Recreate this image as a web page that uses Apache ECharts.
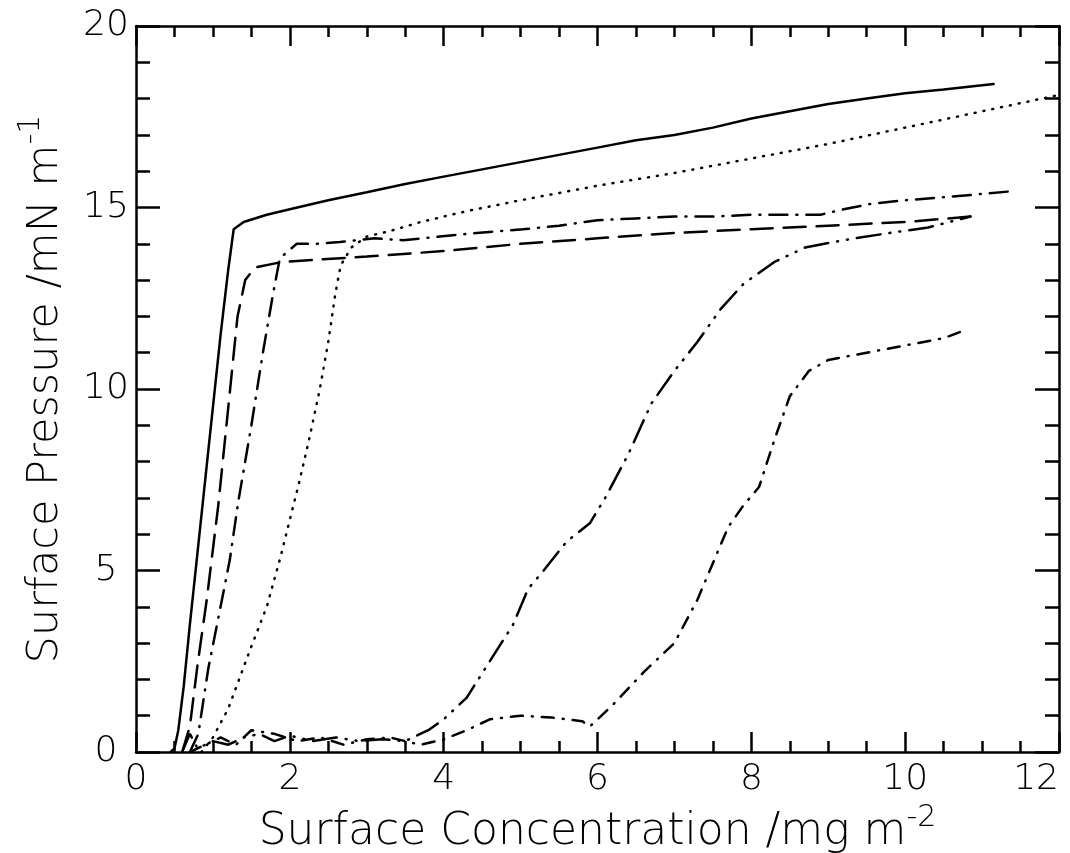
<!DOCTYPE html>
<html>
<head>
<meta charset="utf-8">
<title>Surface pressure isotherms</title>
<script src="https://cdn.jsdelivr.net/npm/echarts@6/dist/echarts.min.js"></script>
<style>
html,body{margin:0;padding:0;background:#fff;}
#main{width:1070px;height:853px;}
</style>
</head>
<body>
<div id="main"></div>
<script>
'use strict'
// x = surface concentration /mg m-2, y = surface pressure /mN m-1
var xTicks=[0,2,4,6,8,10,12];
var yTicks=[0,5,10,15,20];

// solid
var solidX=[0.45,0.5,0.55,0.62,0.7,0.8,0.9,1.0,1.1,1.2,1.27,1.4,1.7,2.0,2.5,3.0,3.5,4.0,4.5,5.0,5.5,6.0,6.5,7.0,7.5,8.0,8.5,9.0,9.5,10.0,10.5,11.15];
var solidY=[0,0.1,0.6,1.8,3.5,5.5,7.5,9.5,11.5,13.3,14.4,14.6,14.8,14.95,15.2,15.42,15.65,15.85,16.05,16.25,16.45,16.65,16.85,17.0,17.2,17.45,17.65,17.85,18.0,18.15,18.25,18.4];

// dotted
var dotX=[0.85,1.0,1.2,1.48,1.7,1.87,2.0,2.13,2.26,2.39,2.5,2.59,2.66,2.8,3.0,3.3,3.7,4.3,5.0,6.0,7.0,8.0,9.0,10.0,11.0,12.0];
var dotY=[0,0.4,1.2,2.8,4.0,5.3,6.4,7.5,8.7,10.0,11.3,12.6,13.4,13.9,14.2,14.35,14.6,14.9,15.2,15.6,15.95,16.35,16.75,17.2,17.65,18.1];

// long dash
var longX=[0.6,0.7,0.8,0.92,1.07,1.2,1.32,1.42,1.55,1.9,3.0,4.0,5.0,6.0,7.0,8.0,9.0,10.0,10.85];
var longY=[0,0.7,2.4,4.2,6.8,9.5,12.0,13.0,13.35,13.5,13.65,13.8,14.0,14.15,14.3,14.4,14.5,14.6,14.75];

// dash dot
var ddX=[0.7,0.81,0.94,1.09,1.22,1.33,1.5,1.65,1.78,1.87,2.09,2.35,2.65,3.1,3.47,3.95,4.43,5.03,5.5,6.0,6.5,7.0,7.5,8.0,8.5,8.9,9.2,9.55,10.0,10.6,11.4];
var ddY=[0,0.5,2.3,3.9,5.3,6.9,9.0,11.0,12.6,13.6,14.0,14.0,14.05,14.15,14.1,14.2,14.3,14.4,14.5,14.65,14.7,14.75,14.75,14.8,14.8,14.8,14.95,15.1,15.2,15.3,15.45];

// dash dot dot
var d2X=[0.6,0.7,0.8,1.0,1.2,1.4,1.6,1.8,2.0,2.3,2.6,2.9,3.2,3.5,3.8,4.0,4.3,4.6,4.9,5.1,5.3,5.6,5.9,6.1,6.4,6.7,7.0,7.3,7.6,7.9,8.3,8.7,9.2,9.8,10.3,10.85];
var d2Y=[0,0.5,0.1,0.3,0.2,0.4,0.5,0.3,0.45,0.3,0.4,0.3,0.35,0.3,0.6,0.9,1.5,2.5,3.5,4.5,5.0,5.8,6.3,7.0,8.2,9.6,10.5,11.3,12.2,12.9,13.5,13.9,14.1,14.3,14.45,14.75];

// short dash dot
var sdX=[0.7,0.9,1.1,1.3,1.5,1.8,2.1,2.4,2.7,3.0,3.3,3.7,4.0,4.3,4.6,5.0,5.4,5.8,5.9,6.2,6.6,7.0,7.3,7.5,7.7,7.9,8.1,8.3,8.5,8.75,9.0,9.5,10.0,10.5,10.75];
var sdY=[0,0.2,0.4,0.2,0.6,0.5,0.3,0.4,0.2,0.35,0.4,0.2,0.35,0.6,0.9,1.0,0.95,0.85,0.7,1.3,2.2,3.0,4.2,5.2,6.2,6.8,7.3,8.6,9.8,10.5,10.8,11.0,11.2,11.4,11.6];

window.onload=function (){
	var myChart=echarts.init(document.getElementById('main'));
	var font='DejaVu Sans';

	function pts(xs,ys){
		var out=[];
		for(var i=0;i<xs.length;i++){
			out.push([xs[i],ys[i]]);
		}
		return out;
	}
	function line(name,xs,ys,type,w){
		return {
			name:name,
			type:'line',
			showSymbol:false,
			symbol:'none',
			xAxisIndex:0,
			yAxisIndex:0,
			data:pts(xs,ys),
			lineStyle:{color:'#000',width:w||2,type:type,cap:'round'},
			silent:true
		};
	}

	var tickX={show:true,inside:true,length:20,lineStyle:{color:'#000',width:2.5}};
	var minorX={show:true,splitNumber:4,length:11,lineStyle:{color:'#000',width:2.5}};
	var tickY={show:true,inside:true,length:24,lineStyle:{color:'#000',width:2.5}};
	var minorY={show:true,splitNumber:5,length:14,lineStyle:{color:'#000',width:2.5}};
	var axLine={show:true,onZero:false,lineStyle:{color:'#000',width:2.5}};
	var supStyle={sup:{fontFamily:font,fontWeight:200,fontSize:30,verticalAlign:'top',padding:[0,0,30,0]}};

	var option={
		animation:false,
		backgroundColor:'#fff',
		grid:{left:136,right:11,top:26,bottom:101,containLabel:false,outerBoundsMode:'none'},
		xAxis:[
			{
				type:'value',min:xTicks[0],max:xTicks[xTicks.length-1],interval:2,
				position:'bottom',
				axisLine:axLine,axisTick:tickX,minorTick:minorX,
				splitLine:{show:false},
				axisLabel:{color:'#000',fontFamily:font,fontWeight:200,fontSize:36,margin:10,alignMaxLabel:'right'},
				name:'Surface Concentration /mg m{sup|-2}',
				nameLocation:'middle',nameGap:44,
				nameTextStyle:{color:'#000',fontFamily:font,fontWeight:200,fontSize:44,rich:supStyle}
			},
			{
				type:'value',min:0,max:12,interval:2,position:'top',
				axisLine:axLine,axisTick:tickX,minorTick:minorX,
				splitLine:{show:false},axisLabel:{show:false}
			}
		],
		yAxis:[
			{
				type:'value',min:yTicks[0],max:yTicks[yTicks.length-1],interval:5,
				position:'left',
				axisLine:axLine,axisTick:tickY,minorTick:minorY,
				splitLine:{show:false},
				axisLabel:{color:'#000',fontFamily:font,fontWeight:200,fontSize:36,margin:30,align:'center'},
				name:'Surface Pressure /mN m{sup|-1}',
				nameLocation:'middle',nameGap:60,nameRotate:90,
				nameTextStyle:{color:'#000',fontFamily:font,fontWeight:200,fontSize:43,rich:supStyle}
			},
			{
				type:'value',min:0,max:20,interval:5,position:'right',
				axisLine:axLine,axisTick:tickY,minorTick:minorY,
				splitLine:{show:false},axisLabel:{show:false}
			}
		],
		series:[
			line('solid',solidX,solidY,'solid',2.5),
			line('dotted',dotX,dotY,[1,8],2.5),
			line('long dash',longX,longY,[22,11],2.5),
			line('dash dot',ddX,ddY,[18,9,1,9],2.5),
			line('dash dot dot',d2X,d2Y,[24,9,1,9,1,9],2.5),
			line('short dash dot',sdX,sdY,[12,9,1,9],2.5)
		]
	};
	myChart.setOption(option);
};
</script>
</body>
</html>
